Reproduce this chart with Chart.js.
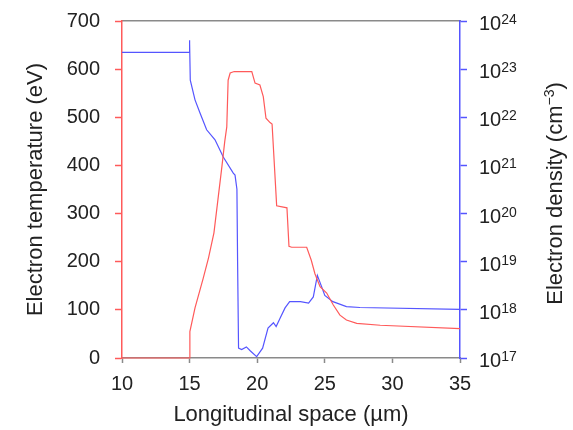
<!DOCTYPE html>
<html>
<head>
<meta charset="utf-8">
<script src="https://cdn.jsdelivr.net/npm/chart.js@4/dist/chart.umd.min.js"></script>
<style>
  html, body { margin: 0; padding: 0; background: #fff; }
  #wrap { width: 573px; height: 430px; position: relative; }
</style>
</head>
<body>
<div id="wrap"><canvas id="chart"></canvas></div>
<script>
// --- data ---
const xTicks = [10, 15, 20, 25, 30, 35];
const tempTicks = [0, 100, 200, 300, 400, 500, 600, 700];
const densExps = [17, 18, 19, 20, 21, 22, 23, 24];

// electron temperature (eV) vs longitudinal space (um)
const tempX = [10, 15, 15.02, 15.4, 16.0, 16.4, 16.8, 17.1, 17.4, 17.6, 17.75, 17.85, 18.0, 18.3, 19.6, 19.84, 20.2, 20.45, 20.65, 20.95, 21.1, 21.44, 22.2, 22.35, 22.55, 23.66, 24.0, 24.27, 24.65, 25.14, 25.63, 26.12, 26.6, 27.36, 29.1, 35];
const tempY = [0, 0, 55, 104, 165, 208, 260, 330, 400, 450, 480, 577, 592, 595, 595, 571, 567, 543, 498, 489, 486, 316, 312, 232, 230, 230, 203, 175, 148, 135, 110, 89, 79, 72, 68, 61];

// electron density (cm^-3) vs longitudinal space (um)
const densX = [10, 14.96, 14.98, 15.0, 15.02, 15.05, 15.4, 15.77, 16.26, 16.88, 17.49, 18.23, 18.36, 18.5, 18.55, 18.62, 18.85, 19.2, 19.5, 19.96, 20.4, 20.8, 21.2, 21.4, 21.7, 22.06, 22.4, 23.2, 23.8, 24.15, 24.45, 24.77, 25.0, 25.6, 26.6, 27.6, 35];
const densY = [2.24e23, 2.24e23, 4.0e23, 2.24e23, 3.5e23, 5.9e22, 2.3e22, 1.23e22, 5.5e21, 3.4e21, 1.5e21, 6.9e20, 6.3e20, 3.2e20, 1e19, 1.6e17, 1.5e17, 1.7e17, 1.4e17, 1.07e17, 1.6e17, 4.2e17, 5.4e17, 4.5e17, 6.8e17, 1.1e18, 1.48e18, 1.48e18, 1.38e18, 1.86e18, 5.2e18, 3.0e18, 2.0e18, 1.48e18, 1.17e18, 1.12e18, 1.02e18];

const RED = 'rgb(255,90,90)';
const BLUE = 'rgb(85,85,255)';
const GRAY = '#8a8a8a';
const TEXT = '#222';
const FONT = '"Liberation Sans", Arial, sans-serif';

Chart.defaults.font.family = FONT;
Chart.defaults.font.size = 20;
Chart.defaults.color = TEXT;

// fixed axis boxes so the plot area lands where the reference has it
function fixBox(size, horizontal) {
    return s => {
        if (horizontal) s.height = size; else s.width = size;
        s.paddingTop = 0; s.paddingBottom = 0;
        s.paddingLeft = 0; s.paddingRight = 0;
    };
}

// right axis labels (10^n) and rotated title drawn on the y2 scale
const rightAxisText = {
    id: 'rightAxisText',
    afterDraw(chart) {
        const s = chart.scales.y2;
        const ctx = chart.ctx;
        ctx.save();
        ctx.fillStyle = TEXT;
        ctx.textBaseline = 'alphabetic';
        ctx.textAlign = 'left';
        densExps.forEach(e => {
            const y = s.getPixelForValue(Math.pow(10, e));
            const x0 = s.left + 19;
            ctx.font = '20px ' + FONT;
            ctx.fillText('10', x0, y + 9);
            const w = ctx.measureText('10').width;
            ctx.font = '14px ' + FONT;
            ctx.fillText(String(e), x0 + w, y + 3);
        });

        // title, reads bottom to top
        const a = chart.chartArea;
        ctx.translate(s.left + 102, (a.top + a.bottom) / 2 + 4);
        ctx.rotate(-Math.PI / 2);
        ctx.font = '22px ' + FONT;
        const main = 'Electron density (cm';
        const sup = '\u22123';
        const wMain = ctx.measureText(main).width;
        const wClose = ctx.measureText(')').width;
        ctx.font = '14px ' + FONT;
        const wSup = ctx.measureText(sup).width;
        let x = -(wMain + wSup + wClose) / 2;
        ctx.font = '22px ' + FONT;
        ctx.fillText(main, x, 0);
        x += wMain;
        ctx.font = '14px ' + FONT;
        ctx.fillText(sup, x, -8);
        x += wSup;
        ctx.font = '22px ' + FONT;
        ctx.fillText(')', x, 0);
        ctx.restore();
    }
};

const ctx = document.getElementById('chart').getContext('2d');
new Chart(ctx, {
    type: 'line',
    data: {
        datasets: [{
            label: 'Electron temperature',
            data: tempX.map((x, i) => ({ x, y: tempY[i] })),
            borderColor: RED,
            borderWidth: 1.2,
            pointRadius: 0,
            tension: 0,
            clip: 3,
            yAxisID: 'y'
        }, {
            label: 'Electron density',
            data: densX.map((x, i) => ({ x, y: densY[i] })),
            borderColor: BLUE,
            borderWidth: 1.2,
            pointRadius: 0,
            tension: 0,
            clip: 3,
            yAxisID: 'y2'
        }]
    },
    options: {
        responsive: true,
        maintainAspectRatio: false,
        animation: false,
        layout: { padding: 0 },
        plugins: { legend: { display: false }, tooltip: { enabled: false } },
        scales: {
            x: {
                type: 'linear',
                position: 'bottom',
                min: 10, max: 35,
                afterBuildTicks: s => { s.ticks = xTicks.map(v => ({ value: v })); },
                afterFit: fixBox(72, true),
                ticks: { padding: 9, color: TEXT, maxRotation: 0 },
                grid: { drawOnChartArea: false, tickLength: 5, tickColor: GRAY, tickWidth: 1.5 },
                border: { color: GRAY, width: 1.5 },
                title: { display: true, text: 'Longitudinal space (\u00b5m)', color: TEXT, font: { size: 22 }, padding: { bottom: 2 } }
            },
            xTop: {
                type: 'linear',
                position: 'top',
                min: 10, max: 35,
                afterFit: fixBox(21, true),
                ticks: { display: false },
                grid: { drawOnChartArea: false, drawTicks: false },
                border: { color: GRAY, width: 1.5 }
            },
            y: {
                type: 'linear',
                position: 'left',
                min: 0, max: 700,
                afterBuildTicks: s => { s.ticks = tempTicks.map(v => ({ value: v })); },
                afterFit: fixBox(122, false),
                ticks: { padding: 15, color: TEXT },
                grid: { drawOnChartArea: false, tickLength: 7, tickColor: RED, tickWidth: 1.5 },
                border: { color: RED, width: 1.5 },
                title: { display: true, text: 'Electron temperature (eV)', color: TEXT, font: { size: 22 }, padding: { top: 23 } }
            },
            y2: {
                type: 'logarithmic',
                position: 'right',
                min: 1e17, max: 1e24,
                afterBuildTicks: s => { s.ticks = densExps.map(e => ({ value: Math.pow(10, e) })); },
                afterFit: fixBox(113, false),
                ticks: { display: false },
                grid: { drawOnChartArea: false, tickLength: 7, tickColor: BLUE, tickWidth: 1.5 },
                border: { color: BLUE, width: 1.5 }
            }
        }
    },
    plugins: [rightAxisText]
});
</script>
</body>
</html>
